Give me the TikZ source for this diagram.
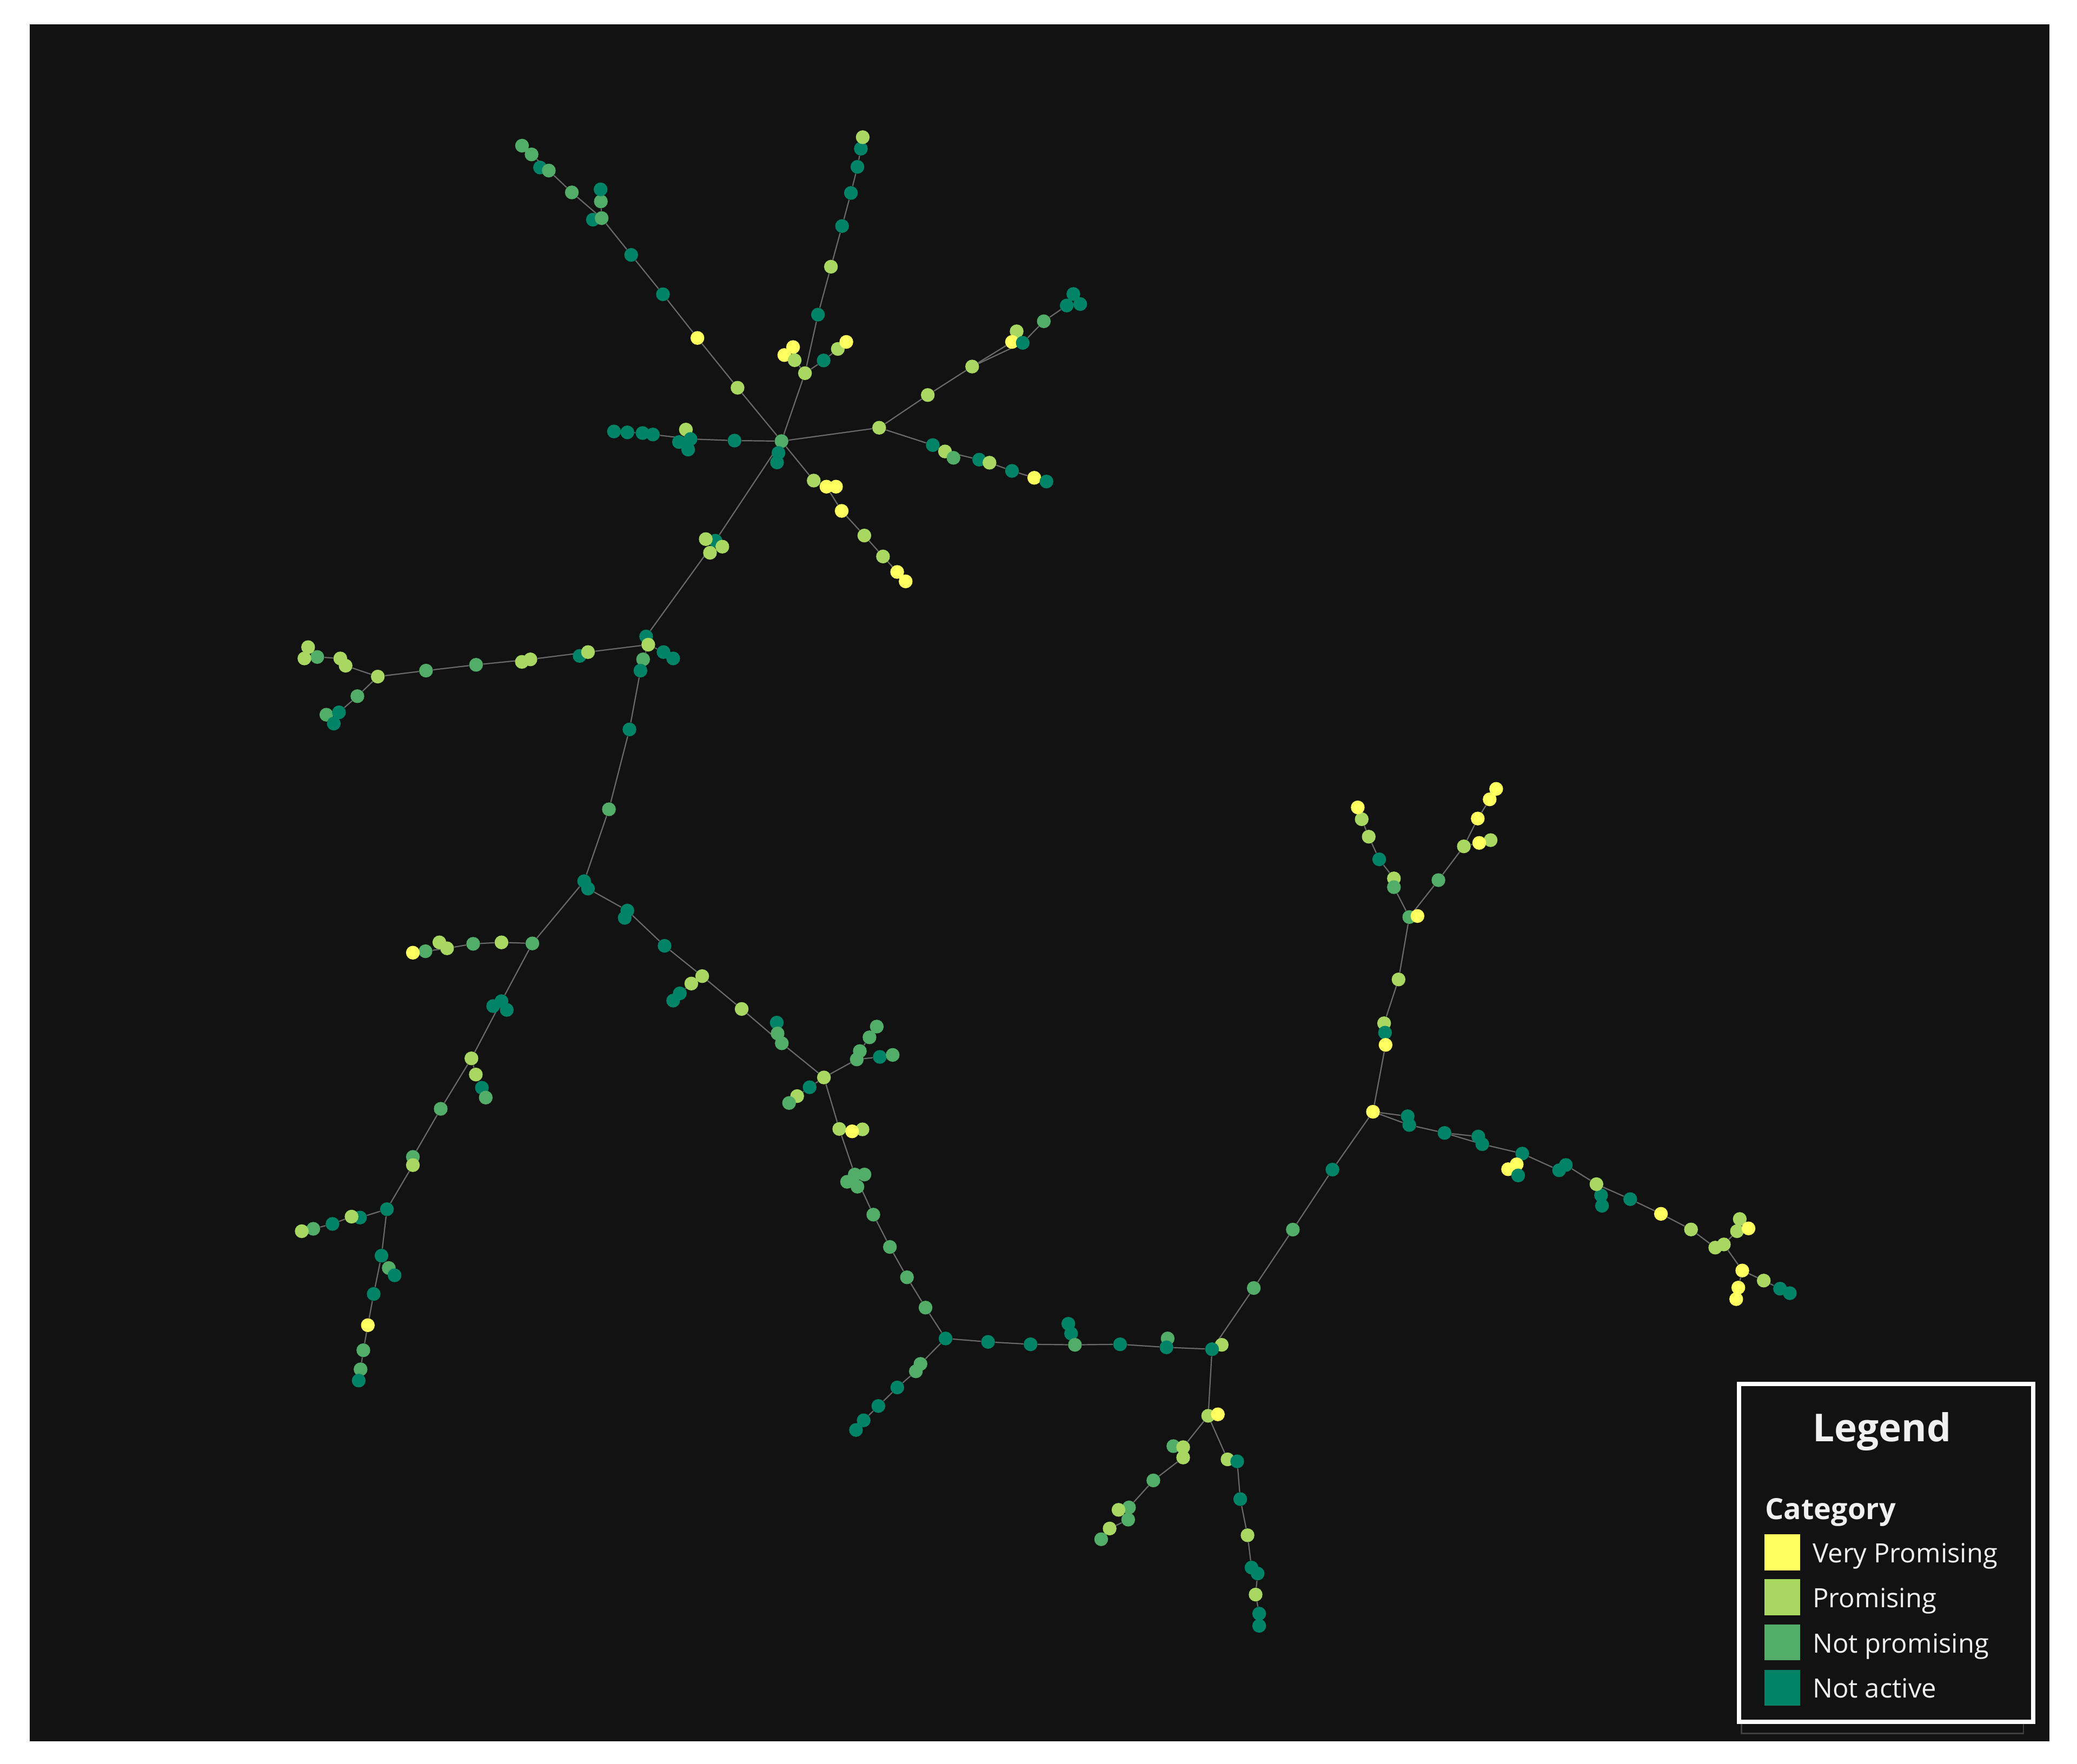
\documentclass[tikz,border=0pt]{standalone}
\usepackage{fontspec}
\setmainfont{Open Sans}
\usetikzlibrary{backgrounds}
\definecolor{bgdark}{HTML}{121212}
\definecolor{cVPc}{HTML}{FFFF60}
\definecolor{cPc}{HTML}{A8D862}
\definecolor{cNc}{HTML}{52AD68}
\definecolor{cAc}{HTML}{008367}
\definecolor{edgec}{HTML}{6A6A6A}
\definecolor{txtc}{HTML}{F0F0F0}
\tikzset{
  dot/.style={circle,inner sep=0pt,minimum size=10.4pt,draw=none},
  cY/.style={dot,fill=cVPc},
  cP/.style={dot,fill=cPc},
  cN/.style={dot,fill=cNc},
  cA/.style={dot,fill=cAc},
  edge/.style={draw=edgec,line width=0.9pt},
  swatch/.style={inner sep=0pt,minimum size=27pt,draw=none},
  legtext/.style={text=txtc,inner sep=0pt,anchor=base west,font=\fontsize{20}{24}\selectfont}
}
\newcommand\dotn[4]{\node[#4] (#1) at (#2,#3) {};}
\begin{document}
\begin{tikzpicture}[x=1pt,y=-1pt]
\useasboundingbox (0,0) rectangle (1568,1332);
\begin{pgfonlayer}{background}
\fill[white] (0,0) rectangle (1568,1332);
\fill[bgdark] (22.4,18.4) rectangle (1547,1315);
\end{pgfonlayer}
% ---- top hub
\dotn{H}{590.0}{333.1}{cN}
\dotn{h2}{587.7}{342.0}{cA}
\dotn{h3}{586.6}{349.2}{cA}
% NW branch
\dotn{a1}{556.8}{292.8}{cP}
\dotn{a2}{526.5}{255.2}{cY}
\dotn{a3}{500.5}{222.2}{cA}
\dotn{a4}{476.5}{192.5}{cA}
\dotn{a5b}{447.6}{165.9}{cA}
\dotn{a5}{454.2}{164.7}{cN}
\dotn{a6}{453.6}{152.1}{cN}
\dotn{a7}{453.4}{143.0}{cA}
\dotn{a8}{431.7}{145.3}{cN}
\dotn{a9b}{407.7}{126.5}{cA}
\dotn{a9}{414.3}{128.8}{cN}
\dotn{a10}{401.3}{116.6}{cN}
\dotn{a11}{394.1}{110.0}{cN}
% N branch
\dotn{b1}{607.7}{281.8}{cP}
\dotn{b2}{617.5}{237.6}{cA}
\dotn{b3}{627.3}{201.4}{cP}
\dotn{b4}{635.7}{170.7}{cA}
\dotn{b5}{642.4}{145.7}{cA}
\dotn{b6}{647.3}{126.0}{cA}
\dotn{b7}{649.9}{112.3}{cA}
\dotn{b8}{651.3}{103.6}{cP}
\dotn{b11}{598.7}{262.1}{cY}
\dotn{b10}{592.1}{268.1}{cY}
\dotn{b9}{599.9}{272.0}{cP}
\dotn{b12}{621.8}{272.2}{cA}
\dotn{b13}{632.5}{263.5}{cP}
\dotn{b14}{638.9}{258.2}{cY}
% NE branch
\dotn{c1}{663.7}{323.0}{cP}
\dotn{c2}{700.4}{298.3}{cP}
\dotn{c3}{733.9}{276.8}{cP}
\dotn{c5}{767.5}{250.2}{cP}
\dotn{c4}{764.0}{258.2}{cY}
\dotn{c6}{772.1}{258.9}{cA}
\dotn{c7}{788.0}{242.6}{cN}
\dotn{c9}{810.3}{222.0}{cA}
\dotn{c8}{805.3}{230.7}{cA}
\dotn{c10}{815.5}{229.6}{cA}
\dotn{c11}{704.2}{336.1}{cA}
\dotn{c12}{713.4}{340.9}{cP}
\dotn{c13}{719.8}{345.7}{cN}
\dotn{c14}{739.2}{347.1}{cA}
\dotn{c15}{747.0}{349.4}{cP}
\dotn{c16}{764.0}{355.6}{cA}
\dotn{c17}{780.8}{360.8}{cY}
\dotn{c18}{790.0}{363.6}{cA}
% W branch
\dotn{d1}{554.5}{332.7}{cA}
\dotn{d3}{517.8}{324.4}{cP}
\dotn{d4}{512.6}{333.8}{cA}
\dotn{d2}{521.3}{331.5}{cA}
\dotn{d5}{519.5}{339.5}{cA}
\dotn{d6}{492.9}{328.1}{cA}
\dotn{d7}{485.1}{327.0}{cA}
\dotn{d8}{473.6}{326.5}{cA}
\dotn{d9}{463.5}{325.8}{cA}
% SE branch
\dotn{e1}{614.3}{362.9}{cP}
\dotn{e2}{623.9}{367.5}{cY}
\dotn{e3}{631.1}{367.5}{cY}
\dotn{e4}{635.4}{385.8}{cY}
\dotn{e5}{652.5}{404.4}{cP}
\dotn{e6}{666.6}{420.2}{cP}
\dotn{e7}{677.3}{431.9}{cY}
\dotn{e8}{683.7}{439.0}{cY}
% trunk
\dotn{t1}{540.1}{408.3}{cA}
\dotn{t2}{532.8}{407.1}{cP}
\dotn{t3}{545.3}{412.8}{cP}
\dotn{t4}{536.0}{417.4}{cP}
\dotn{j1}{487.8}{480.6}{cA}
\dotn{j1b}{489.4}{486.8}{cP}
\dotn{j2}{485.5}{497.9}{cN}
\dotn{j3}{483.5}{506.4}{cA}
\dotn{j4}{500.9}{492.4}{cA}
\dotn{j5}{508.2}{497.2}{cA}
% west branch
\dotn{f1b}{437.6}{495.3}{cA}
\dotn{f1}{443.9}{492.4}{cP}
\dotn{f2}{400.4}{497.9}{cP}
\dotn{f2b}{394.0}{499.8}{cP}
\dotn{f3}{359.4}{502.0}{cN}
\dotn{f4}{321.6}{506.4}{cN}
\dotn{f5}{285.2}{510.9}{cP}
\dotn{f6}{269.8}{525.7}{cN}
\dotn{f8}{246.4}{539.7}{cN}
\dotn{f7}{255.9}{537.9}{cA}
\dotn{f9}{252.0}{546.4}{cA}
\dotn{f10}{260.9}{502.7}{cP}
\dotn{f11}{256.9}{497.2}{cP}
\dotn{f12}{239.5}{496.1}{cN}
\dotn{f13}{232.6}{488.7}{cP}
\dotn{f14}{229.8}{497.2}{cP}
% trunk down
\dotn{g1}{475.2}{550.8}{cA}
\dotn{g2}{459.7}{611.1}{cN}
\dotn{g3}{441.0}{665.4}{cA}
\dotn{g3b}{443.9}{671.0}{cA}
% right branch
\dotn{k1}{473.6}{687.6}{cA}
\dotn{k1b}{471.6}{693.1}{cA}
\dotn{k2}{501.7}{714.2}{cA}
\dotn{k3}{530.1}{737.1}{cP}
\dotn{k4}{521.9}{742.7}{cP}
\dotn{k5}{513.2}{750.1}{cA}
\dotn{k6}{508.2}{755.6}{cA}
\dotn{k7}{559.9}{761.9}{cP}
\dotn{k8}{586.4}{772.2}{cA}
\dotn{k9}{587.0}{780.4}{cN}
\dotn{k10}{590.2}{787.8}{cN}
\dotn{m}{622.0}{813.6}{cP}
\dotn{m1}{611.2}{821.0}{cA}
\dotn{m2}{601.8}{827.7}{cP}
\dotn{m3}{595.7}{832.9}{cN}
\dotn{m4}{646.8}{800.0}{cN}
\dotn{m5}{649.1}{793.7}{cN}
\dotn{m6}{656.4}{783.3}{cN}
\dotn{m7}{661.9}{775.2}{cN}
\dotn{m8}{664.2}{798.1}{cA}
\dotn{m9}{673.9}{796.6}{cN}
\dotn{p1}{633.6}{852.5}{cP}
\dotn{p3}{651.1}{852.8}{cP}
\dotn{p2}{643.3}{854.3}{cY}
\dotn{p4}{645.3}{886.9}{cN}
\dotn{p5}{652.6}{886.9}{cN}
\dotn{p6}{639.5}{892.4}{cN}
\dotn{p7}{647.3}{896.1}{cN}
\dotn{p8}{659.3}{917.2}{cN}
\dotn{p9}{671.8}{941.6}{cN}
\dotn{p10}{684.7}{964.5}{cN}
\dotn{p11}{698.7}{987.4}{cN}
\dotn{q}{713.8}{1010.7}{cA}
\dotn{q1}{694.9}{1029.9}{cN}
\dotn{q2}{691.4}{1035.5}{cN}
\dotn{q3}{677.4}{1047.7}{cA}
\dotn{q4}{663.1}{1061.7}{cA}
\dotn{q5}{652.0}{1072.5}{cA}
\dotn{q6}{646.2}{1079.8}{cA}
\dotn{r1}{745.9}{1013.3}{cA}
\dotn{r2}{778.0}{1015.1}{cA}
\dotn{r5}{806.5}{999.6}{cA}
\dotn{r4}{808.6}{1007.0}{cA}
\dotn{r3}{811.5}{1015.5}{cN}
\dotn{r6}{845.6}{1015.1}{cA}
\dotn{r8}{881.5}{1010.7}{cN}
\dotn{r7}{880.6}{1017.4}{cA}
\dotn{s2}{922.3}{1015.5}{cP}
\dotn{s}{915.0}{1018.8}{cA}
\dotn{u1}{912.1}{1069.1}{cP}
\dotn{u2}{919.4}{1068.0}{cY}
\dotn{u4}{885.8}{1092.0}{cN}
\dotn{u3}{893.2}{1092.8}{cP}
\dotn{u5}{893.2}{1100.6}{cP}
\dotn{u6}{870.7}{1117.9}{cN}
\dotn{u7}{852.3}{1138.3}{cN}
\dotn{u8}{844.4}{1140.1}{cP}
\dotn{u9}{851.7}{1147.5}{cN}
\dotn{u10}{837.7}{1154.2}{cP}
\dotn{u11}{831.3}{1162.3}{cN}
\dotn{v1}{926.7}{1102.0}{cP}
\dotn{v2}{934.0}{1103.5}{cA}
\dotn{v3}{936.3}{1132.0}{cA}
\dotn{v4}{941.8}{1159.3}{cP}
\dotn{v5}{944.8}{1183.7}{cA}
\dotn{v6}{949.4}{1188.2}{cA}
\dotn{v7}{947.9}{1204.1}{cP}
\dotn{v8}{950.6}{1218.5}{cA}
\dotn{v9}{950.6}{1227.7}{cA}
% right tree
\dotn{w1}{946.5}{972.6}{cN}
\dotn{w2}{976.0}{928.5}{cN}
\dotn{w3}{1005.9}{883.2}{cA}
\dotn{X}{1036.5}{839.5}{cY}
\dotn{x3}{1044.9}{772.7}{cP}
\dotn{x2}{1045.6}{779.8}{cA}
\dotn{x1}{1046.0}{789.0}{cY}
\dotn{x4}{1055.8}{739.6}{cP}
\dotn{Z}{1063.9}{692.5}{cN}
\dotn{Z2}{1070.1}{691.7}{cY}
\dotn{z2}{1052.3}{663.3}{cP}
\dotn{z1}{1052.3}{669.9}{cN}
\dotn{z3}{1041.2}{648.9}{cA}
\dotn{z4}{1033.3}{631.8}{cP}
\dotn{z5}{1028.0}{618.6}{cP}
\dotn{z6}{1025.0}{609.7}{cY}
\dotn{y1}{1085.9}{664.6}{cN}
\dotn{y2}{1105.1}{639.1}{cP}
\dotn{y4}{1125.3}{634.4}{cP}
\dotn{y3}{1116.7}{636.5}{cY}
\dotn{y5}{1115.6}{618.1}{cY}
\dotn{y6}{1124.6}{603.6}{cY}
\dotn{y7}{1129.5}{595.7}{cY}
\dotn{o1}{1062.7}{842.9}{cA}
\dotn{o2}{1063.9}{849.5}{cA}
\dotn{o3}{1090.5}{855.5}{cA}
\dotn{o4}{1116.0}{858.2}{cA}
\dotn{o5}{1119.0}{864.0}{cA}
\dotn{o6}{1149.2}{871.1}{cA}
\dotn{o8}{1138.5}{882.9}{cY}
\dotn{o7}{1145.0}{879.2}{cY}
\dotn{o9}{1146.1}{887.6}{cA}
\dotn{o10}{1182.1}{879.7}{cA}
\dotn{o11}{1177.0}{883.7}{cA}
\dotn{o14}{1209.4}{910.5}{cA}
\dotn{o13}{1208.7}{902.6}{cA}
\dotn{o12}{1205.2}{894.2}{cP}
\dotn{o15}{1230.7}{905.5}{cA}
\dotn{o16}{1253.9}{916.6}{cY}
\dotn{o17}{1276.6}{928.4}{cP}
\dotn{o18}{1294.9}{942.1}{cP}
\dotn{o19}{1301.4}{939.7}{cP}
\dotn{o21}{1313.4}{920.5}{cP}
\dotn{o20}{1311.3}{929.7}{cP}
\dotn{o22}{1320.0}{927.6}{cY}
\dotn{o23}{1315.3}{959.4}{cY}
\dotn{o24}{1312.3}{972.3}{cY}
\dotn{o25}{1310.7}{981.0}{cY}
\dotn{o26}{1331.5}{967.0}{cP}
\dotn{o27}{1343.8}{973.1}{cA}
\dotn{o28}{1351.2}{976.5}{cA}
% SW branch
\dotn{L0}{401.9}{712.4}{cN}
\dotn{L1}{378.6}{711.6}{cP}
\dotn{L2}{357.2}{712.7}{cN}
\dotn{L4}{331.7}{711.6}{cP}
\dotn{L3}{337.5}{716.1}{cP}
\dotn{L5}{321.2}{718.3}{cN}
\dotn{L6}{311.7}{719.4}{cY}
\dotn{D2}{372.3}{759.7}{cA}
\dotn{D1}{378.6}{756.0}{cA}
\dotn{D3}{382.6}{762.6}{cA}
\dotn{D4}{355.9}{799.2}{cP}
\dotn{D5}{359.2}{811.4}{cP}
\dotn{D6}{363.8}{821.4}{cA}
\dotn{D7}{366.7}{828.8}{cN}
\dotn{D8}{332.7}{837.3}{cN}
\dotn{D9}{311.7}{873.6}{cN}
\dotn{D10}{311.7}{879.8}{cP}
\dotn{D11}{292.1}{913.1}{cA}
\dotn{W1}{271.8}{919.4}{cA}
\dotn{W2}{265.4}{918.7}{cP}
\dotn{W3}{251.0}{924.2}{cA}
\dotn{W4}{236.5}{927.9}{cN}
\dotn{W5}{227.8}{929.7}{cP}
\dotn{S1}{288.0}{948.2}{cA}
\dotn{S2}{293.5}{957.5}{cN}
\dotn{S3}{297.9}{963.0}{cA}
\dotn{S4}{282.1}{977.1}{cA}
\dotn{S5}{277.7}{1000.7}{cY}
\dotn{S6}{274.3}{1019.6}{cN}
\dotn{S7}{272.2}{1034.0}{cN}
\dotn{S8}{270.8}{1042.5}{cA}
% ---- edges
\begin{pgfonlayer}{background}
\draw[edge] (H)--(h2)--(h3);
\draw[edge] (H)--(a1)--(a2)--(a3)--(a4)--(a5)--(a8)--(a9)--(a10)--(a11);
\draw[edge] (a5)--(a6)--(a7); \draw[edge] (a5)--(a5b); \draw[edge] (a9)--(a9b);
\draw[edge] (H)--(b1)--(b2)--(b3)--(b4)--(b5)--(b6)--(b7)--(b8);
\draw[edge] (b1)--(b9)--(b10); \draw[edge] (b9)--(b11);
\draw[edge] (b1)--(b12)--(b13)--(b14);
\draw[edge] (H)--(c1)--(c2)--(c3)--(c6)--(c7)--(c8)--(c9); \draw[edge] (c8)--(c10);
\draw[edge] (c3)--(c4)--(c5);
\draw[edge] (c1)--(c11)--(c12)--(c14)--(c15)--(c16)--(c17)--(c18); \draw[edge] (c12)--(c13);
\draw[edge] (H)--(d1)--(d2)--(d6)--(d7)--(d8)--(d9);
\draw[edge] (d2)--(d3); \draw[edge] (d2)--(d4); \draw[edge] (d2)--(d5);
\draw[edge] (H)--(e1)--(e2)--(e4)--(e5)--(e6)--(e7)--(e8); \draw[edge] (e2)--(e3);
\draw[edge] (H)--(t1)--(j1)--(j1b)--(j2)--(j3); \draw[edge] (t1)--(t2); \draw[edge] (t1)--(t3); \draw[edge] (t1)--(t4);
\draw[edge] (j1b)--(j4)--(j5);
\draw[edge] (j1b)--(f1)--(f2)--(f3)--(f4)--(f5)--(f6)--(f7)--(f8); \draw[edge] (f7)--(f9);
\draw[edge] (f1)--(f1b); \draw[edge] (f2)--(f2b);
\draw[edge] (f5)--(f10)--(f11)--(f12)--(f13); \draw[edge] (f12)--(f14);
\draw[edge] (j3)--(g1)--(g2)--(g3)--(g3b);
\draw[edge] (g3b)--(k1)--(k2)--(k3)--(k7)--(k10)--(m); \draw[edge] (k1)--(k1b);
\draw[edge] (k3)--(k4)--(k5)--(k6); \draw[edge] (k10)--(k9)--(k8);
\draw[edge] (m)--(m1)--(m2)--(m3);
\draw[edge] (m)--(m4)--(m8)--(m9); \draw[edge] (m4)--(m5)--(m6)--(m7);
\draw[edge] (m)--(p1)--(p4)--(p8)--(p9)--(p10)--(p11)--(q);
\draw[edge] (p1)--(p2)--(p3); \draw[edge] (p4)--(p5); \draw[edge] (p4)--(p6); \draw[edge] (p4)--(p7);
\draw[edge] (q)--(q1)--(q2)--(q3)--(q4)--(q5)--(q6);
\draw[edge] (q)--(r1)--(r2)--(r3)--(r6)--(r7)--(s); \draw[edge] (r3)--(r4)--(r5); \draw[edge] (r7)--(r8);
\draw[edge] (s)--(s2);
\draw[edge] (s)--(u1)--(u2);
\draw[edge] (u1)--(u3)--(u5)--(u6)--(u7)--(u9)--(u10)--(u11); \draw[edge] (u3)--(u4); \draw[edge] (u7)--(u8);
\draw[edge] (u1)--(v1)--(v2)--(v3)--(v4)--(v5)--(v6)--(v7)--(v8)--(v9);
\draw[edge] (s)--(w1)--(w2)--(w3)--(X);
\draw[edge] (X)--(x1)--(x2)--(x3)--(x4)--(Z)--(Z2);
\draw[edge] (Z)--(z1)--(z2)--(z3)--(z4)--(z5)--(z6);
\draw[edge] (Z)--(y1)--(y2)--(y5)--(y6)--(y7); \draw[edge] (y2)--(y3)--(y4);
\draw[edge] (X)--(o2)--(o3)--(o5)--(o6)--(o11)--(o10)--(o12)--(o15)--(o16)--(o17)--(o18)--(o19)--(o20)--(o21);
\draw[edge] (X)--(o1); \draw[edge] (o3)--(o4);
\draw[edge] (o6)--(o7)--(o8); \draw[edge] (o7)--(o9);
\draw[edge] (o12)--(o13)--(o14); \draw[edge] (o20)--(o22);
\draw[edge] (o19)--(o23)--(o26)--(o27)--(o28); \draw[edge] (o23)--(o24)--(o25);
\draw[edge] (g3)--(L0)--(L1)--(L2)--(L3)--(L5)--(L6); \draw[edge] (L3)--(L4);
\draw[edge] (L0)--(D1)--(D4)--(D8)--(D9)--(D10)--(D11); \draw[edge] (D1)--(D2); \draw[edge] (D1)--(D3);
\draw[edge] (D4)--(D5)--(D6)--(D7);
\draw[edge] (D11)--(W1)--(W2)--(W3)--(W4)--(W5);
\draw[edge] (D11)--(S1)--(S4)--(S5)--(S6)--(S7)--(S8); \draw[edge] (S1)--(S2)--(S3);
\end{pgfonlayer}
% ---- legend
\draw[draw=black!75,line width=1pt] (1314.7,1048) rectangle (1527.6,1309);
\draw[draw=white,fill=bgdark,line width=3.3pt] (1312.9,1045.2) rectangle (1534.9,1300.3);
\node[text=txtc,inner sep=0pt,anchor=base,font=\fontsize{29}{35}\selectfont\bfseries] (legtitle) at (1420.7,1088.4) {Legend};
\node[text=txtc,inner sep=0pt,anchor=base west,font=\fontsize{22}{26}\selectfont\bfseries] (cattitle) at (1332.5,1147.2) {Category};
\node[swatch,fill=cVPc,anchor=north west] (sw1) at (1331.7,1158.5) {};
\node[swatch,fill=cPc,anchor=north west] (sw2) at (1331.7,1192.4) {};
\node[swatch,fill=cNc,anchor=north west] (sw3) at (1331.7,1226.6) {};
\node[swatch,fill=cAc,anchor=north west] (sw4) at (1331.7,1260.6) {};
\node[legtext] (lt1) at (1368.3,1180.0) {Very Promising};
\node[legtext] (lt2) at (1368.3,1214.0) {Promising};
\node[legtext] (lt3) at (1368.3,1248.0) {Not promising};
\node[legtext] (lt4) at (1368.3,1282.0) {Not active};
\end{tikzpicture}
\end{document}
